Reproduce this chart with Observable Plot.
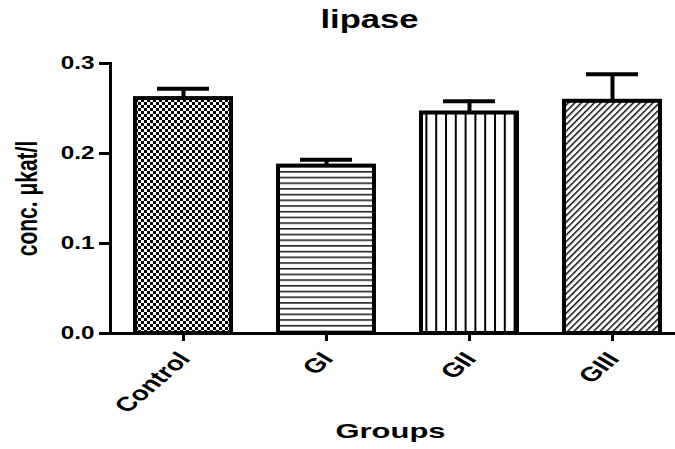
<!DOCTYPE html>
<html><head><meta charset="utf-8">
<script src="https://cdn.jsdelivr.net/npm/d3@7"></script>
<script src="https://cdn.jsdelivr.net/npm/@observablehq/plot@0.6"></script>
<style>body{margin:0;background:#fff}</style>
</head><body><div id="chart"></div>
<script>
const groups = ["Control", "GI", "GII", "GIII"];
const means = [0.261, 0.186, 0.245, 0.258];
const sems = [0.011, 0.007, 0.013, 0.030];
const yTicks = [0, 0.1, 0.2, 0.3];
const title = "lipase";
const xLabel = "Groups";
const yLabel = "conc. μkat/l";
const patterns = ["url(#pat-check)", "url(#pat-hlines)", "url(#pat-vlines)", "url(#pat-diag)"];

const data = groups.map((g, i) => ({group: g, mean: means[i], hi: means[i] + sems[i]}));
const font = "'Liberation Sans', Arial, Helvetica, sans-serif";

const chart = Plot.plot({
  width: 675, height: 449,
  marginLeft: 110, marginRight: -10, marginTop: 63, marginBottom: 116,
  style: {fontFamily: font, fontWeight: "bold", background: "white", color: "black", overflow: "hidden"},
  x: {domain: groups, paddingInner: 0.33, paddingOuter: 0.165},
  y: {domain: [0, 0.3]},
  color: {domain: groups, range: patterns},
  marks: [
    Plot.ruleX(data, {x: "group", y1: "mean", y2: "hi", stroke: "black", strokeWidth: 4}),
    Plot.tickY(data, {x: "group", y: "hi", stroke: "black", strokeWidth: 4, insetLeft: 22, insetRight: 22}),
    Plot.barY(data, {x: "group", y: "mean", fill: "group", stroke: "black", strokeWidth: 4}),
    Plot.ruleY([0], {stroke: "black", strokeWidth: 3}),
    Plot.frame({anchor: "left", stroke: "black", strokeWidth: 3}),
    Plot.axisY({ticks: yTicks, tickSize: 11, tickPadding: 5, tickFormat: d3.format(".1f"), strokeWidth: 3, fontSize: 18, label: null}),
    Plot.axisX({tickSize: 8, tickFormat: () => "", strokeWidth: 3, label: null}),
    Plot.text(data, {x: "group", text: "group", frameAnchor: "bottom", dy: 26, dx: 8, rotate: -50, textAnchor: "end", lineAnchor: "bottom", fontSize: 20}),
    Plot.text([title], {text: d => d, frameAnchor: "top-left", dx: 259, dy: -36, textAnchor: "middle", lineAnchor: "bottom", fontSize: 25}),
    Plot.text([xLabel], {text: d => d, frameAnchor: "bottom", dx: -7.5, dy: 104, lineAnchor: "bottom", fontSize: 21}),
    Plot.text([yLabel], {text: d => d, frameAnchor: "left", dx: -83, rotate: -90, textAnchor: "middle", fontSize: 21})
  ]
});

// pattern definitions
const ns = "http://www.w3.org/2000/svg";
const defs = document.createElementNS(ns, "defs");
defs.innerHTML = `
<pattern id="pat-check" patternUnits="userSpaceOnUse" width="6" height="6">
  <rect width="6" height="6" fill="white"/>
  <rect width="3" height="3" fill="black"/>
  <rect x="3" y="3" width="3" height="3" fill="black"/>
</pattern>
<pattern id="pat-hlines" patternUnits="userSpaceOnUse" width="10" height="5.7">
  <rect width="10" height="5.7" fill="white"/>
  <rect y="0" width="10" height="1.6" fill="#222"/>
</pattern>
<pattern id="pat-vlines" patternUnits="userSpaceOnUse" width="9.8" height="10" x="4">
  <rect width="9.8" height="10" fill="white"/>
  <rect x="0" width="2" height="10" fill="black"/>
</pattern>
<pattern id="pat-diag" patternUnits="userSpaceOnUse" width="4.6" height="10" patternTransform="rotate(45)">
  <rect width="4.6" height="10" fill="white"/>
  <rect x="0" width="1.5" height="10" fill="#111"/>
</pattern>`;
chart.insertBefore(defs, chart.firstChild);
document.getElementById("chart").appendChild(chart);

// the reference image is stretched horizontally (~1.4x); emulate it on the text
const stretchX = 1.4;
function fit(t, len) {
  t.setAttribute("textLength", len);
  t.setAttribute("lengthAdjust", "spacingAndGlyphs");
}
chart.querySelectorAll("text").forEach(t => {
  const s = t.textContent;
  if (!s) return;
  const tr = t.getAttribute("transform") || "";
  if (tr.includes("rotate(")) {
    t.setAttribute("transform", tr.replace("rotate(", `scale(${stretchX},1) rotate(`));
    return;
  }
  const w = t.getComputedTextLength();
  if (s === title) fit(t, 98);
  else if (s === xLabel) fit(t, 110);
  else fit(t, w * 1.35);
});
</script>
</body></html>
